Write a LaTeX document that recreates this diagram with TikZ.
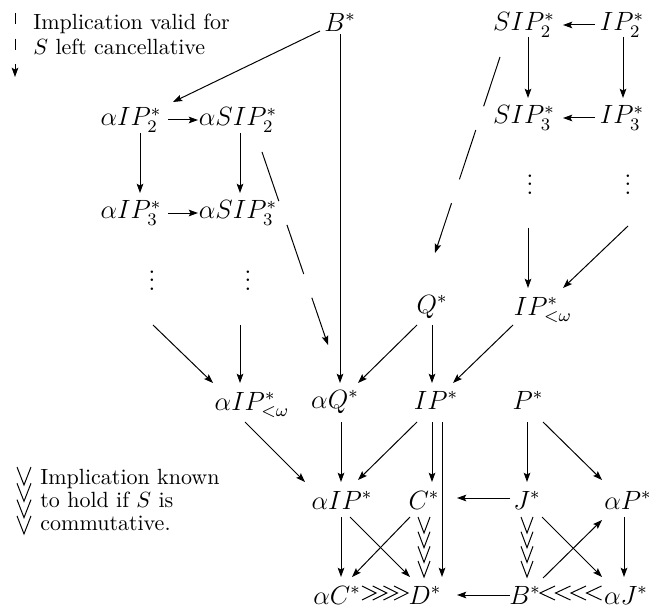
\documentclass[tikz,border=0pt]{standalone}
\usetikzlibrary{arrows.meta,calc}
\begin{document}
\begin{tikzpicture}[x=0.4545pt,y=-0.4545pt,
  nd/.style={inner sep=0pt,font=\large},
  ln/.style={line width=0.45pt},
  ar/.style={ln,-{Stealth[length=4.2pt,width=3pt,inset=0.8pt]}},
  dsh/.style={ar,dash pattern=on 23.6pt off 11.4pt},
  legdash/.style={ar,dash pattern=on 5.2pt off 6.4pt},
  legtxt/.style={inner sep=0pt,align=left,anchor=west}]
\useasboundingbox (0,0) rectangle (655,612);
% nodes
\node[nd] (Bt) at (340,22) {$B^*$};
\node[nd] (SIP2) at (524,25) {$SIP_2^*$};
\node[nd] (IP2) at (622,25) {$IP_2^*$};
\node[nd] (aIP2) at (131,120) {$\alpha IP_2^*$};
\node[nd] (aSIP2) at (238,120) {$\alpha SIP_2^*$};
\node[nd] (SIP3) at (524,118) {$SIP_3^*$};
\node[nd] (IP3) at (622,118) {$IP_3^*$};
\node[nd] (aIP3) at (131,213) {$\alpha IP_3^*$};
\node[nd] (aSIP3) at (238,213) {$\alpha SIP_3^*$};
\node[nd] (ld1) at (152,274) {$\vdots$};
\node[nd] (ld2) at (248,274) {$\vdots$};
\node[nd] (rd1) at (530,178) {$\vdots$};
\node[nd] (rd2) at (628,178) {$\vdots$};
\node[nd] (Q) at (432,307) {$Q^*$};
\node[nd] (IPw) at (543,310) {$IP_{<\omega}^*$};
\node[nd] (aIPw) at (252,405) {$\alpha IP_{<\omega}^*$};
\node[nd] (aQ) at (335,402) {$\alpha Q^*$};
\node[nd] (IP) at (436,400) {$IP^*$};
\node[nd] (P) at (528,400) {$P^*$};
\node[nd] (aIP) at (342,500) {$\alpha IP^*$};
\node[nd] (C) at (424,500) {$C^*$};
\node[nd] (J) at (527,500) {$J^*$};
\node[nd] (aP) at (628,500) {$\alpha P^*$};
\node[nd] (aC) at (337,595) {$\alpha C^*$};
\node[nd] (D) at (425,595) {$D^*$};
\node[nd] (Bb) at (525,595) {$B^*$};
\node[nd] (aJ) at (626,595) {$\alpha J^*$};
% arrows
\draw[ar] ($(Bt)+(-20,9)$) -- ($(aIP2)+(42,-18)$);
\draw[ar] ($(Bt)+(0,12)$) -- ($(aQ)+(5,-19)$);
\draw[ar] ($(aIP2)+(37,0)$) -- ($(aSIP2)+(-40,0)$);
\draw[ar] ($(aIP3)+(37,0)$) -- ($(aSIP3)+(-40,0)$);
\draw[ar] ($(aIP2)+(9,13)$) -- ($(aIP3)+(9,-20)$);
\draw[ar] ($(aSIP2)+(2,13)$) -- ($(aSIP3)+(2,-20)$);
\draw[dsh] ($(aSIP2)+(24,32)$) -- ($(aQ)+(-7,-57)$);
\draw[ar] ($(ld1)+(1,51)$) -- ($(aIPw)+(-39,-22)$);
\draw[ar] ($(ld2)+(-8,51)$) -- ($(aIPw)+(-12,-22)$);
\draw[ar] ($(aIPw)+(-7,17)$) -- ($(aIP)+(-37,-18)$);
\draw[ar] ($(aQ)+(6,20)$) -- ($(aIP)+(-1,-18)$);
\draw[ar] ($(Q)+(-15,18)$) -- ($(aQ)+(23,-19)$);
\draw[ar] ($(IP)+(-19,22)$) -- ($(aIP)+(16,-20)$);
\draw[ar] ($(Q)+(0,18)$) -- ($(IP)+(-4,-17)$);
\draw[ar] ($(IPw)+(-30,15)$) -- ($(IP)+(17,-17)$);
\draw[ar] ($(rd1)+(-2,50)$) -- ($(IPw)+(-15,-22)$);
\draw[ar] ($(rd2)+(0,48)$) -- ($(IPw)+(20,-22)$);
\draw[dsh] ($(SIP2)+(-24,32)$) -- ($(Q)+(3,-54)$);
\draw[ar] ($(IP2)+(-27,0)$) -- ($(SIP2)+(39,0)$);
\draw[ar] ($(IP3)+(-27,0)$) -- ($(SIP3)+(39,0)$);
\draw[ar] ($(SIP2)+(4,12)$) -- ($(SIP3)+(4,-20)$);
\draw[ar] ($(IP2)+(1,12)$) -- ($(IP3)+(1,-20)$);
\draw[ar] ($(IP)+(-4,22)$) -- ($(C)+(8,-18)$);
\draw[ar] ($(IP)+(6,22)$) -- ($(D)+(17,-18)$);
\draw[ar] ($(P)+(-1,22)$) -- ($(J)+(0,-18)$);
\draw[ar] ($(P)+(15,22)$) -- ($(aP)+(-26,-20)$);
\draw[ar] ($(J)+(-17,-2)$) -- ($(C)+(33,-2)$);
\draw[ar] ($(aIP)+(-1,17)$) -- ($(aC)+(4,-18)$);
\draw[ar] ($(aIP)+(8,17)$) -- ($(D)+(-15,-18)$);
\draw[ar] ($(C)+(-14,17)$) -- ($(aC)+(15,-18)$);
\draw[ar] ($(J)+(15,17)$) -- ($(aJ)+(-24,-18)$);
\draw[ar] ($(Bb)+(18,-17)$) -- ($(aP)+(-26,20)$);
\draw[ar] ($(aP)+(-4,17)$) -- ($(aJ)+(-2,-18)$);
\draw[ar] ($(Bb)+(-15,0)$) -- ($(D)+(32,0)$);
% commutative implications (chains of vees / chevrons)
\foreach \k in {0,1,2,3} {
  \draw[ln] ($(C)+(-6,17+14.67*\k)$) -- ($(C)+(0,33+14.67*\k)$) -- ($(C)+(6,17+14.67*\k)$);
  \draw[ln] ($(J)+(-6,17+14.67*\k)$) -- ($(J)+(0,33+14.67*\k)$) -- ($(J)+(6,17+14.67*\k)$);
  \draw[ln] ($(aC)+(25+10.7*\k,-9)$) -- ($(aC)+(39+10.7*\k,-2)$) -- ($(aC)+(25+10.7*\k,5)$);
  \draw[ln] ($(Bb)+(30+15.5*\k,-9)$) -- ($(Bb)+(15+15.5*\k,-2)$) -- ($(Bb)+(30+15.5*\k,5)$);
}
% legends
\coordinate (lgA) at (15,13);
\coordinate (lgB) at (15,77);
\draw[legdash] (lgA) -- (lgB);
\node[legtxt,font=\fontsize{10}{11.4}\selectfont] (leg1) at (33,34.5) {Implication valid for\\$S$ left cancellative};
\coordinate (lgV) at (24,467);
\foreach \k in {0,1,2,3} {
  \draw[ln] ($(lgV)+(-7,16.3*\k)$) -- ($(lgV)+(0,18+16.3*\k)$) -- ($(lgV)+(7,16.3*\k)$);
}
\node[legtxt,font=\fontsize{10}{10.5}\selectfont] (leg2) at (40,500) {Implication known\\to hold if $S$ is\\commutative.};
\end{tikzpicture}
\end{document}
